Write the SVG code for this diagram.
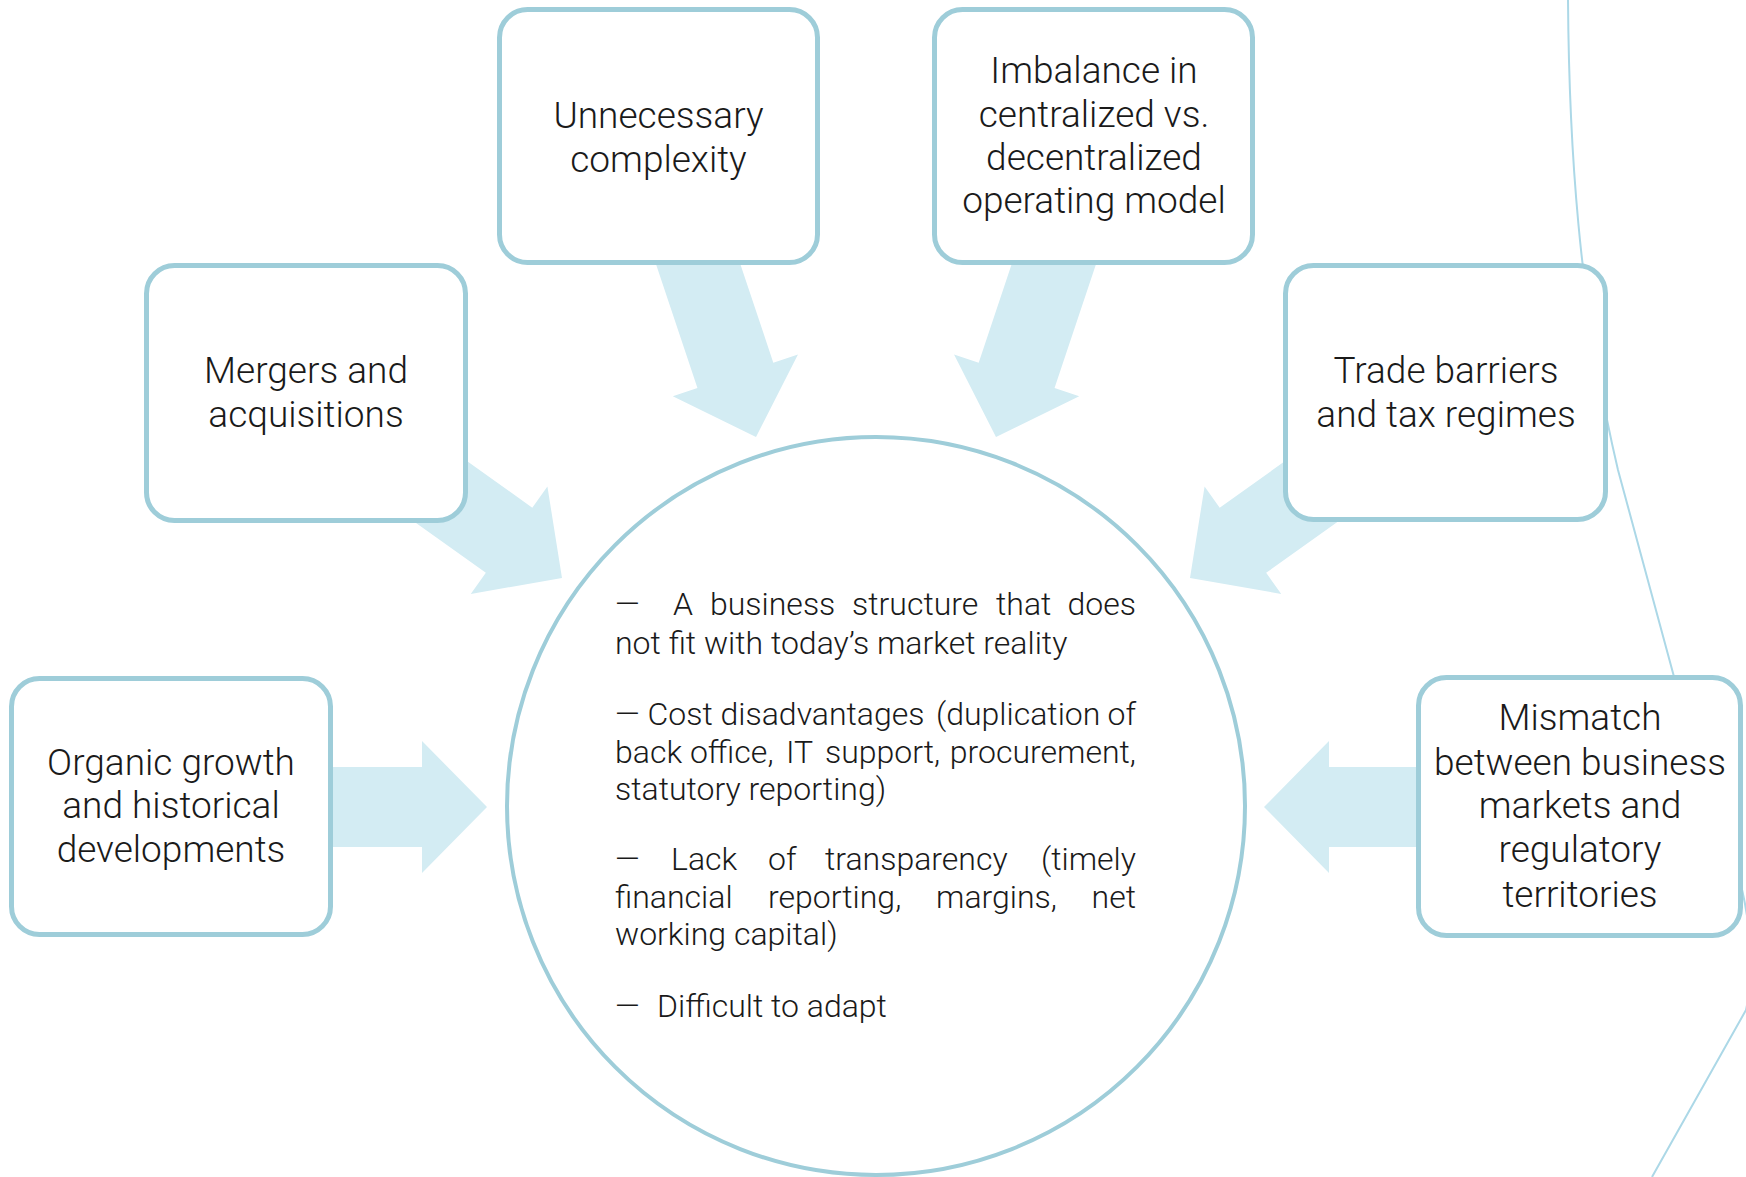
<svg xmlns="http://www.w3.org/2000/svg" width="1746" height="1177" viewBox="0 0 1746 1177">
<style>
.box{fill:#ffffff;stroke:#9ecdd9;stroke-width:5}
.lbl{font-family:Roboto,"Liberation Sans",sans-serif;font-weight:300;font-size:37px;fill:#1a1a1a;text-anchor:middle}
.body{font-family:Roboto,"Liberation Sans",sans-serif;font-weight:300;font-size:32px;fill:#1a1a1a}
.e{text-anchor:end}
.arr{fill:#d3ecf3}
</style>
<defs>
<polygon id="arrow" points="0,0 -65,-66 -65,-40 -200,-40 -200,40 -65,40 -65,66"/>
</defs>
<path d="M1568,0 C1569,140 1578,300 1618,470 L1673,673 C1700,780 1770,900 1746,1010 L1652,1177" fill="none" stroke="#acd8e7" stroke-width="2"/>
<g id="connectors">
<use href="#arrow" class="arr" transform="translate(487,807)"/>
<use href="#arrow" class="arr" transform="translate(1264,807) rotate(180)"/>
<use href="#arrow" class="arr" transform="translate(562,578) rotate(35.5)"/>
<use href="#arrow" class="arr" transform="translate(1190,578) rotate(144.5)"/>
<use href="#arrow" class="arr" transform="translate(756,437) rotate(71.5)"/>
<use href="#arrow" class="arr" transform="translate(996,437) rotate(108.5)"/>
</g>
<g id="center">
<circle cx="876" cy="806" r="369" fill="#ffffff" stroke="#9ecdd9" stroke-width="4"/>
<text class="body"><tspan x="615" y="615">—</tspan><tspan x="673" y="615">A</tspan><tspan x="710" y="615">business</tspan><tspan x="852" y="615">structure</tspan><tspan x="996" y="615">that</tspan><tspan x="1136" y="615" class="e">does</tspan></text>
<text class="body" x="615" y="654">not fit with today’s market reality</text>
<text class="body"><tspan x="615" y="725">— Cost disadvantages</tspan><tspan x="936" y="725">(duplication</tspan><tspan x="1136" y="725" class="e">of</tspan></text>
<text class="body"><tspan x="615" y="763">back office,</tspan><tspan x="786" y="763">IT</tspan><tspan x="825" y="763">support,</tspan><tspan x="1136" y="763" class="e">procurement,</tspan></text>
<text class="body" x="615" y="800">statutory reporting)</text>
<text class="body"><tspan x="615" y="870">—</tspan><tspan x="671" y="870">Lack</tspan><tspan x="768" y="870">of</tspan><tspan x="825" y="870">transparency</tspan><tspan x="1136" y="870" class="e">(timely</tspan></text>
<text class="body"><tspan x="615" y="908">financial</tspan><tspan x="768" y="908">reporting,</tspan><tspan x="936" y="908">margins,</tspan><tspan x="1136" y="908" class="e">net</tspan></text>
<text class="body" x="615" y="945">working capital)</text>
<text class="body"><tspan x="615" y="1017">—</tspan><tspan x="657" y="1017">Difficult to adapt</tspan></text>
</g>
<g id="unnecessary">
<rect class="box" x="499.5" y="9.5" width="318" height="253" rx="28"/>
<text class="lbl"><tspan x="658.5" y="128">Unnecessary</tspan><tspan x="658.5" y="172">complexity</tspan></text>
</g>
<g id="imbalance">
<rect class="box" x="934.5" y="9.5" width="318" height="253" rx="28"/>
<text class="lbl"><tspan x="1094" y="83">Imbalance in</tspan><tspan x="1094" y="127">centralized vs.</tspan><tspan x="1094" y="170">decentralized</tspan><tspan x="1094" y="213">operating model</tspan></text>
</g>
<g id="mergers">
<rect class="box" x="146.5" y="265.5" width="319" height="255" rx="28"/>
<text class="lbl"><tspan x="306" y="383">Mergers and</tspan><tspan x="306" y="427">acquisitions</tspan></text>
</g>
<g id="trade">
<rect class="box" x="1285.5" y="265.5" width="320" height="254" rx="28"/>
<text class="lbl"><tspan x="1446" y="383">Trade barriers</tspan><tspan x="1446" y="427">and tax regimes</tspan></text>
</g>
<g id="organic">
<rect class="box" x="11.5" y="678.5" width="319" height="256" rx="28"/>
<text class="lbl"><tspan x="171" y="775">Organic growth</tspan><tspan x="171" y="818">and historical</tspan><tspan x="171" y="862">developments</tspan></text>
</g>
<g id="mismatch">
<rect class="box" x="1418.5" y="677.5" width="322" height="258" rx="28"/>
<text class="lbl"><tspan x="1580" y="730">Mismatch</tspan><tspan x="1580" y="775">between business</tspan><tspan x="1580" y="818">markets and</tspan><tspan x="1580" y="862">regulatory</tspan><tspan x="1580" y="907">territories</tspan></text>
</g>
</svg>
